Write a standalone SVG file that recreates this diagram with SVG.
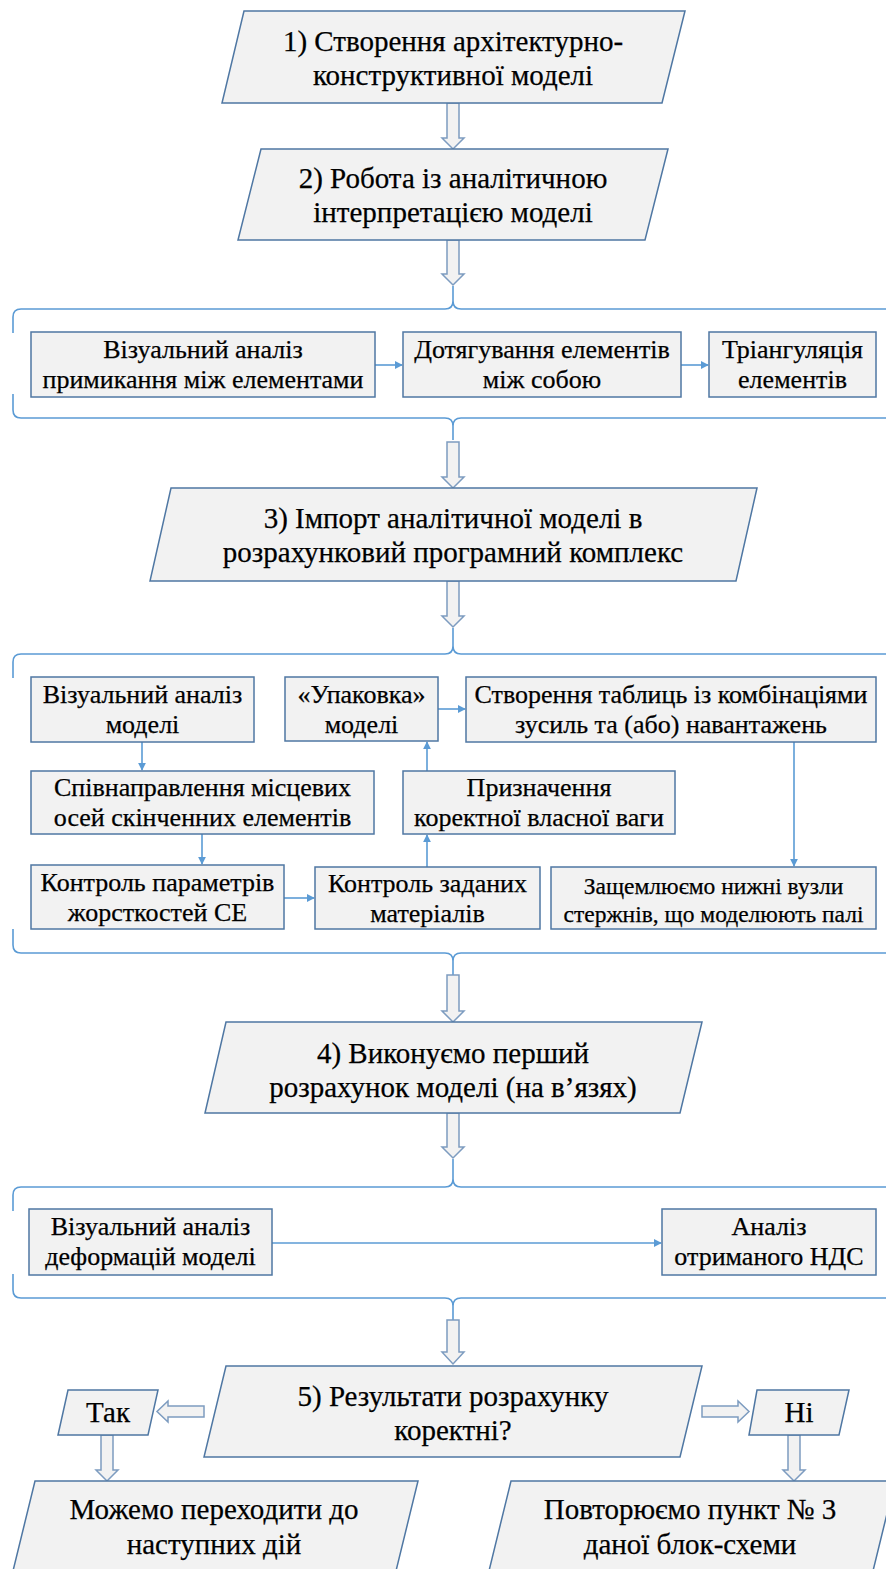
<svg xmlns="http://www.w3.org/2000/svg" width="886" height="1569" viewBox="0 0 886 1569">
<defs>
<style>
.node{fill:#F2F2F2;stroke:#4F77A3;stroke-width:1.5}
.blk{fill:#F2F2F2;stroke:#7D9CC0;stroke-width:1.5;stroke-linejoin:miter}
.brace{fill:none;stroke:#5B9BD5;stroke-width:1.6}
.con{fill:none;stroke:#5B9BD5;stroke-width:1.6}
text{font-family:'Liberation Serif','Times New Roman',serif;fill:#000;stroke:#000;stroke-width:0.25;text-anchor:middle}
.big{font-size:29px}
.sm{font-size:26px}
.xs{font-size:23.5px}
</style>
<marker id="ah" viewBox="0 0 10 10" refX="9" refY="5" markerWidth="5" markerHeight="5" orient="auto" markerUnits="strokeWidth">
<path d="M0,0 L10,5 L0,10 z" fill="#5B9BD5"/>
</marker>
</defs>
<rect width="886" height="1569" fill="#FFFFFF"/>

<g id="braces">
<path class="brace" d="M13,333 L13,317 Q13,309 21,309 L445,309 Q453,309 453,301 L453,286 L453,301 Q453,309 461,309 L885,309 Q893,309 893,317 L893,333"/>
<path class="brace" d="M13,394 L13,410 Q13,418 21,418 L445,418 Q453,418 453,426 L453,440 L453,426 Q453,418 461,418 L885,418 Q893,418 893,410 L893,394"/>
<path class="brace" d="M13,678 L13,662 Q13,654 21,654 L445,654 Q453,654 453,646 L453,628 L453,646 Q453,654 461,654 L885,654 Q893,654 893,662 L893,678"/>
<path class="brace" d="M13,929 L13,945 Q13,953 21,953 L445,953 Q453,953 453,961 L453,975 L453,961 Q453,953 461,953 L885,953 Q893,953 893,945 L893,929"/>
<path class="brace" d="M13,1211 L13,1195 Q13,1187 21,1187 L445,1187 Q453,1187 453,1179 L453,1159 L453,1179 Q453,1187 461,1187 L885,1187 Q893,1187 893,1195 L893,1211"/>
<path class="brace" d="M13,1274 L13,1290 Q13,1298 21,1298 L445,1298 Q453,1298 453,1306 L453,1320 L453,1306 Q453,1298 461,1298 L885,1298 Q893,1298 893,1290 L893,1274"/>
</g>

<g id="connectors">
<line class="con" x1="375" y1="365" x2="402" y2="365" marker-end="url(#ah)"/>
<line class="con" x1="681" y1="365" x2="708" y2="365" marker-end="url(#ah)"/>
<line class="con" x1="142" y1="742" x2="142" y2="770" marker-end="url(#ah)"/>
<line class="con" x1="202" y1="834" x2="202" y2="864" marker-end="url(#ah)"/>
<line class="con" x1="284" y1="898" x2="314" y2="898" marker-end="url(#ah)"/>
<line class="con" x1="427" y1="867" x2="427" y2="835" marker-end="url(#ah)"/>
<line class="con" x1="427" y1="771" x2="427" y2="742" marker-end="url(#ah)"/>
<line class="con" x1="438" y1="709" x2="465" y2="709" marker-end="url(#ah)"/>
<line class="con" x1="794" y1="742" x2="794" y2="866" marker-end="url(#ah)"/>
<line class="con" x1="272" y1="1243" x2="661" y2="1243" marker-end="url(#ah)"/>
</g>

<g id="block-arrows">
<path class="blk" d="M447,103 L459,103 L459,138 L464,138 L453,149 L442,138 L447,138 Z"/>
<path class="blk" d="M447,240 L459,240 L459,274 L464,274 L453,285 L442,274 L447,274 Z"/>
<path class="blk" d="M447,442 L459,442 L459,477 L464,477 L453,488 L442,477 L447,477 Z"/>
<path class="blk" d="M447,581 L459,581 L459,616 L464,616 L453,627 L442,616 L447,616 Z"/>
<path class="blk" d="M447,975 L459,975 L459,1011 L464,1011 L453,1022 L442,1011 L447,1011 Z"/>
<path class="blk" d="M447,1113 L459,1113 L459,1147 L464,1147 L453,1158 L442,1147 L447,1147 Z"/>
<path class="blk" d="M447,1320 L459,1320 L459,1352 L464,1352 L453,1364 L442,1352 L447,1352 Z"/>
<path class="blk" d="M101,1435 L113,1435 L113,1470 L118,1470 L107,1481 L96,1470 L101,1470 Z"/>
<path class="blk" d="M788,1435 L800,1435 L800,1470 L805,1470 L794,1481 L783,1470 L788,1470 Z"/>
<path class="blk" d="M204,1406 L204,1417 L168,1417 L168,1422 L157,1411.5 L168,1401 L168,1406 Z"/>
<path class="blk" d="M702,1406 L702,1417 L738,1417 L738,1422 L749,1411.5 L738,1401 L738,1406 Z"/>
</g>

<g id="n1">
<polygon class="node" points="244,11 685,11 662,103 222,103"/>
<text class="big" x="453" y="51">1) Створення архітектурно-</text>
<text class="big" x="453" y="85">конструктивної моделі</text>
</g>
<g id="n2">
<polygon class="node" points="261,149 668,149 645,240 238,240"/>
<text class="big" x="453" y="188">2) Робота із аналітичною</text>
<text class="big" x="453" y="222">інтерпретацією моделі</text>
</g>

<g id="a1">
<rect class="node" x="31" y="332" width="344" height="65"/>
<text class="sm" x="203" y="358">Візуальний аналіз</text>
<text class="sm" x="203" y="388">примикання між елементами</text>
</g>
<g id="a2">
<rect class="node" x="403" y="332" width="278" height="65"/>
<text class="sm" x="542" y="358">Дотягування елементів</text>
<text class="sm" x="542" y="388">між собою</text>
</g>
<g id="a3">
<rect class="node" x="709" y="332" width="167" height="65"/>
<text class="sm" x="792.5" y="358">Тріангуляція</text>
<text class="sm" x="792.5" y="388">елементів</text>
</g>

<g id="n3">
<polygon class="node" points="171,488 757,488 736,581 150,581"/>
<text class="big" x="453" y="528">3) Імпорт аналітичної моделі в</text>
<text class="big" x="453" y="562">розрахунковий програмний комплекс</text>
</g>

<g id="b1">
<rect class="node" x="31" y="677" width="223" height="65"/>
<text class="sm" x="142.5" y="703">Візуальний аналіз</text>
<text class="sm" x="142.5" y="733">моделі</text>
</g>
<g id="b2">
<rect class="node" x="285" y="677" width="153" height="64"/>
<text class="sm" x="361.5" y="703">«Упаковка»</text>
<text class="sm" x="361.5" y="733">моделі</text>
</g>
<g id="b3">
<rect class="node" x="466" y="677" width="410" height="65"/>
<text class="sm" x="671" y="703">Створення таблиць із комбінаціями</text>
<text class="sm" x="671" y="733">зусиль та (або) навантажень</text>
</g>
<g id="b4">
<rect class="node" x="31" y="771" width="343" height="63"/>
<text class="sm" x="202.5" y="796">Співнаправлення місцевих</text>
<text class="sm" x="202.5" y="826">осей скінченних елементів</text>
</g>
<g id="b5">
<rect class="node" x="403" y="771" width="272" height="63"/>
<text class="sm" x="539" y="796">Призначення</text>
<text class="sm" x="539" y="826">коректної власної ваги</text>
</g>
<g id="b6">
<rect class="node" x="31" y="865" width="253" height="64"/>
<text class="sm" x="157.5" y="891">Контроль параметрів</text>
<text class="sm" x="157.5" y="921">жорсткостей СЕ</text>
</g>
<g id="b7">
<rect class="node" x="315" y="867" width="225" height="62"/>
<text class="sm" x="427.5" y="892">Контроль заданих</text>
<text class="sm" x="427.5" y="922">матеріалів</text>
</g>
<g id="b8">
<rect class="node" x="551" y="867" width="325" height="62"/>
<text class="xs" x="713.5" y="894">Защемлюємо нижні вузли</text>
<text class="xs" x="713.5" y="922">стержнів, що моделюють палі</text>
</g>

<g id="n4">
<polygon class="node" points="226,1022 702,1022 680,1113 205,1113"/>
<text class="big" x="453" y="1063">4) Виконуємо перший</text>
<text class="big" x="453" y="1097">розрахунок моделі (на в’язях)</text>
</g>

<g id="c1">
<rect class="node" x="29" y="1209" width="243" height="66"/>
<text class="sm" x="150.5" y="1235">Візуальний аналіз</text>
<text class="sm" x="150.5" y="1265">деформацій моделі</text>
</g>
<g id="c2">
<rect class="node" x="662" y="1209" width="214" height="66"/>
<text class="sm" x="769" y="1235">Аналіз</text>
<text class="sm" x="769" y="1265">отриманого НДС</text>
</g>

<g id="n5">
<polygon class="node" points="226,1366 702,1366 680,1457 204,1457"/>
<text class="big" x="453" y="1406">5) Результати розрахунку</text>
<text class="big" x="453" y="1440">коректні?</text>
</g>
<g id="yes">
<polygon class="node" points="68,1390 158,1390 148,1435 58,1435"/>
<text class="big" x="108" y="1422">Так</text>
</g>
<g id="no">
<polygon class="node" points="757,1390 849,1390 839,1435 749,1435"/>
<text class="big" x="799" y="1422">Ні</text>
</g>
<g id="n6">
<polygon class="node" points="35,1481 418,1481 395,1575 12,1575"/>
<text class="big" x="214" y="1519">Можемо переходити до</text>
<text class="big" x="214" y="1554">наступних дій</text>
</g>
<g id="n7">
<polygon class="node" points="511,1481 895,1481 872,1575 488,1575"/>
<text class="big" x="690" y="1519">Повторюємо пункт № 3</text>
<text class="big" x="690" y="1554">даної блок-схеми</text>
</g>
</svg>
